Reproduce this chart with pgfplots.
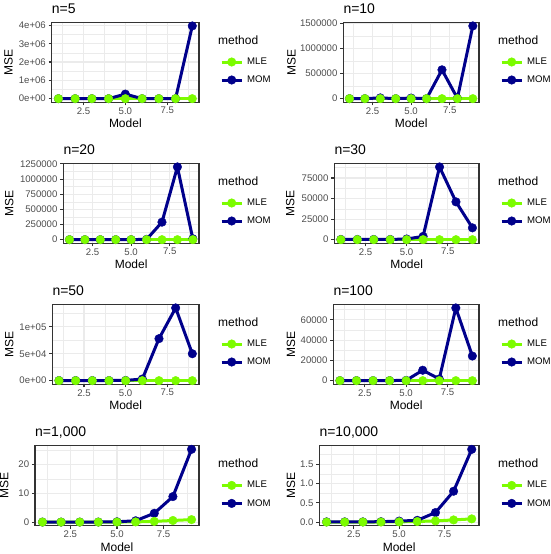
\documentclass[border=0pt]{standalone}
\usepackage{pgfplots}
\pgfplotsset{compat=1.18}
\usepackage{pgfplotstable}
\usepackage{fontspec}
\setmainfont{Liberation Sans}
\definecolor{mlec}{HTML}{7CFC00}
\definecolor{momc}{HTML}{00008B}
\definecolor{grid92}{HTML}{EBEBEB}
\definecolor{grey20}{HTML}{333333}
\definecolor{grey30}{HTML}{4D4D4D}
\newcommand\tickfont{\fontsize{9.6}{11}\selectfont}
\newcommand\labfont{\fontsize{12}{14}\selectfont}
\newcommand\titfont{\fontsize{14}{16}\selectfont}
\newcommand\legfont{\fontsize{9.6}{11}\selectfont}

% n=5
\pgfplotstableread{
model MLE MOM
1 40 1000
2 40 1000
3 40 1000
4 40 1000
5 40 250000
6 40 1000
7 40 1000
8 40 1000
9 40 3970000
}\tA
% n=10
\pgfplotstableread{
model MLE MOM
1 30 1000
2 30 1000
3 30 15000
4 30 1000
5 30 12000
6 30 1000
7 30 575000
8 30 8000
9 30 1450000
}\tB
% n=20
\pgfplotstableread{
model MLE MOM
1 20 500
2 20 500
3 20 500
4 20 500
5 20 1000
6 20 5000
7 20 289000
8 20 1200000
9 20 15000
}\tC
% n=30
\pgfplotstableread{
model MLE MOM
1 10 300
2 10 300
3 10 300
4 10 300
5 10 800
6 10 4000
7 10 88500
8 10 46000
9 10 14400
}\tD
% n=50
\pgfplotstableread{
model MLE MOM
1 8 300
2 8 300
3 8 300
4 8 300
5 8 500
6 8 3000
7 8 78000
8 8 135000
9 8 50000
}\tE
% n=100
\pgfplotstableread{
model MLE MOM
1 5 100
2 5 100
3 5 100
4 5 100
5 5 300
6 5 10300
7 5 1700
8 5 71700
9 5 24300
}\tF
% n=1,000
\pgfplotstableread{
model MLE MOM
1 0.05 0.05
2 0.05 0.05
3 0.05 0.05
4 0.05 0.06
5 0.06 0.15
6 0.10 0.50
7 0.30 3.10
8 0.60 8.90
9 0.90 25.30
}\tG
% n=10,000
\pgfplotstableread{
model MLE MOM
1 0.005 0.010
2 0.005 0.010
3 0.006 0.010
4 0.007 0.015
5 0.010 0.030
6 0.020 0.050
7 0.035 0.250
8 0.060 0.800
9 0.087 1.880
}\tH

\pgfplotsset{
  legend image code/.code={\draw[mark repeat=2,mark phase=2,#1] plot coordinates {(0pt,0pt) (10pt,0pt) (20pt,0pt)};},
  mleLeg/.style={color=mlec, line width=3pt, mark=*, mark size=4.3pt, mark options={line width=0.4pt, fill=mlec}},
  momLeg/.style={color=momc, line width=3pt, mark=*, mark size=4.3pt, mark options={line width=0.4pt, fill=momc}},
  mleL/.style={color=mlec, line width=3pt, no markers},
  momL/.style={color=momc, line width=3pt, no markers},
  mleM/.style={only marks, color=mlec, mark=*, mark size=4.3pt, mark options={line width=0.4pt, fill=mlec}},
  momM/.style={only marks, color=momc, mark=*, mark size=4.3pt, mark options={line width=0.4pt, fill=momc}},
  panel/.style={
    scale only axis, anchor=north west, height=80pt,
    clip mode=individual,
    xmin=0.6, xmax=9.4,
    xtick={2.5,5,7.5}, xticklabels={2.5,5.0,7.5},
    minor xtick={1.25,3.75,6.25,8.75},
    grid=both,
    major grid style={line width=1.1pt, color=grid92},
    minor grid style={line width=0.55pt, color=grid92},
    axis line style={line width=1.1pt, color=grey20},
    tick style={line width=1.1pt, color=grey20},
    major tick length=3pt, minor tick length=0pt,
    tick align=outside, tick pos=left,
    scaled y ticks=false,
    ticklabel style={font=\tickfont, text=grey30, inner sep=0pt},
    yticklabel style={xshift=-2.7pt},
    xticklabel style={yshift=-1.8pt},
    xlabel={Model}, ylabel={MSE},
    label style={font=\labfont},
    xlabel style={at={([yshift=-25.5pt]axis description cs:0.5,0)}, anchor=base, inner sep=0pt},
    ylabel style={at={([xshift=-#1pt]axis description cs:0,0.5)}, anchor=base, inner sep=0pt},
    title style={at={(axis description cs:0,1)}, anchor=base west, yshift=3pt, font=\titfont, inner sep=0pt},
    legend style={draw=none, fill=none, at={([xshift=21pt,yshift=-35.2pt]axis description cs:1,1)}, anchor=north west,
      inner sep=0pt, row sep=9.4pt, column sep=4pt, font=\legfont, nodes={inner sep=0pt}},
    legend cell align=left,
  },
}
\newcommand\legtitle{\node[anchor=base west, font=\labfont, inner sep=0pt, xshift=19pt, yshift=-22pt] at (axis description cs:1,1) {method};}
\newcommand\drawseries[1]{%
  \addlegendimage{mleLeg}\addlegendentry{MLE}
  \addlegendimage{momLeg}\addlegendentry{MOM}
  \addplot[mleL] table[x=model,y=MLE] {#1};
  \addplot[momL] table[x=model,y=MOM] {#1};
  \addplot[momM] table[x=model,y=MOM] {#1};
  \addplot[mleM] table[x=model,y=MLE] {#1};
  \legtitle
}

\begin{document}
\begin{tikzpicture}
\path[use as bounding box] (0pt,0pt) rectangle (550pt,-554pt);

% Row 1
\begin{axis}[panel=39, at={(51.7pt,-22.3pt)}, width=147.3pt, title={n=5},
  ymin=-198400, ymax=4168500,
  ytick={0,1000000,2000000,3000000,4000000}, yticklabels={0e+00,1e+06,2e+06,3e+06,4e+06},
  minor ytick={500000,1500000,2500000,3500000}]
\drawseries{\tA}
\end{axis}
\begin{axis}[panel=47.6, at={(343.3pt,-22.3pt)}, width=135.7pt, title={n=10},
  ymin=-72500, ymax=1522500,
  ytick={0,500000,1000000,1500000}, yticklabels={0,500000,1000000,1500000},
  minor ytick={250000,750000,1250000}]
\drawseries{\tB}
\end{axis}

% Row 2
\begin{axis}[panel=50, at={(63.3pt,-163.3pt)}, width=135.7pt, title={n=20},
  ymin=-60000, ymax=1260000,
  ytick={0,250000,500000,750000,1000000,1250000}, yticklabels={0,250000,500000,750000,1000000,1250000},
  minor ytick={125000,375000,625000,875000,1125000}]
\drawseries{\tC}
\end{axis}
\begin{axis}[panel=40, at={(334.3pt,-163.3pt)}, width=144.7pt, title={n=30},
  ymin=-4425, ymax=92925,
  ytick={0,25000,50000,75000}, yticklabels={0,25000,50000,75000},
  minor ytick={12500,37500,62500,87500}]
\drawseries{\tD}
\end{axis}

% Row 3
\begin{axis}[panel=39, at={(52.3pt,-304.3pt)}, width=146.7pt, title={n=50},
  ymin=-6750, ymax=141750,
  ytick={0,50000,100000}, yticklabels={0e+00,5e+04,1e+05},
  minor ytick={25000,75000,125000}]
\drawseries{\tE}
\end{axis}
\begin{axis}[panel=38.3, at={(333.3pt,-304.3pt)}, width=145.7pt, title={n=100},
  ymin=-3585, ymax=75285,
  ytick={0,20000,40000,60000}, yticklabels={0,20000,40000,60000},
  minor ytick={10000,30000,50000,70000}]
\drawseries{\tF}
\end{axis}

% Row 4
\begin{axis}[panel=26.7, at={(35pt,-445.7pt)}, width=164pt, title={n=1,000},
  ymin=-1.2125, ymax=26.5625,
  ytick={0,10,20}, yticklabels={0,10,20},
  minor ytick={5,15,25}]
\drawseries{\tG}
\end{axis}
\begin{axis}[panel=24.3, at={(319.3pt,-445.7pt)}, width=159.7pt, title={n=10,000},
  ymin=-0.08875, ymax=1.97375,
  ytick={0,0.5,1,1.5}, yticklabels={0.0,0.5,1.0,1.5},
  minor ytick={0.25,0.75,1.25,1.75}]
\drawseries{\tH}
\end{axis}
\end{tikzpicture}
\end{document}
